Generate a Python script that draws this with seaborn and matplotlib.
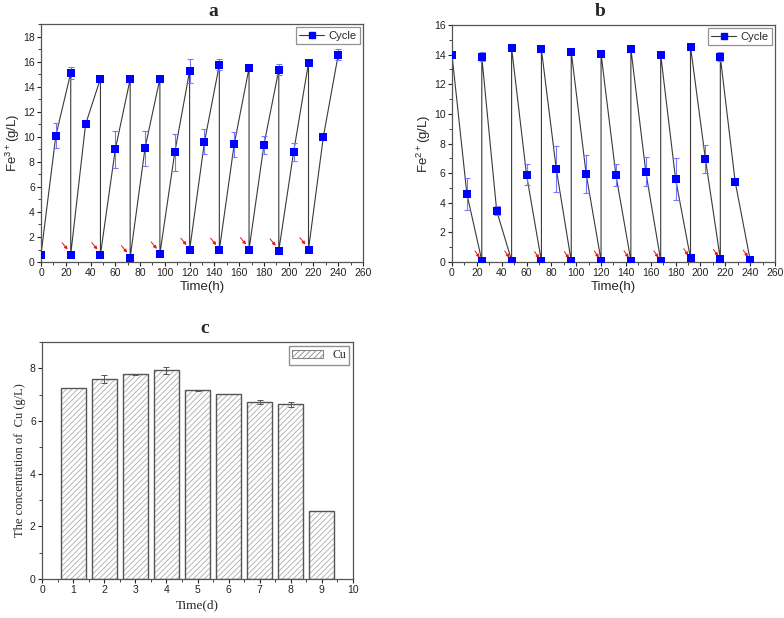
import matplotlib
matplotlib.use('Agg')
import matplotlib.pyplot as plt
from matplotlib.lines import Line2D
from matplotlib.patches import Patch, Rectangle
from matplotlib.ticker import MultipleLocator
import seaborn as sns
import pandas as pd

# Fe3+ (panel a): sampling time, value, error
t_a = [0, 12, 24, 24, 36, 48, 48, 60, 72, 72, 84, 96, 96, 108, 120, 120, 132, 144, 144,
       156, 168, 168, 180, 192, 192, 204, 216, 216, 228, 240]
fe3 = [0.6, 10.1, 15.1, 0.6, 11.0, 14.65, 0.6, 9.0, 14.6, 0.35, 9.1, 14.65, 0.65, 8.75, 15.25,
       0.95, 9.6, 15.75, 0.95, 9.4, 15.5, 1.0, 9.35, 15.35, 0.9, 8.8, 15.9, 1.0, 10.0, 16.55]
fe3_err = [0, 1.0, 0.5, 0, 0, 0.15, 0, 1.5, 0.1, 0, 1.4, 0.1, 0, 1.5, 0.95,
           0, 1.0, 0.45, 0, 1.0, 0.15, 0, 0.75, 0.45, 0, 0.7, 0.1, 0, 0, 0.45]

# Fe2+ (panel b)
t_b = [0, 12, 24, 24, 36, 48, 48, 60, 72, 72, 84, 96, 96, 108, 120, 120, 132, 144, 144,
       156, 168, 168, 180, 192, 192, 204, 216, 216, 228, 240]
fe2 = [14.0, 4.6, 0.1, 13.85, 3.45, 0.1, 14.45, 5.9, 0.05, 14.35, 6.25, 0.05, 14.2, 5.95, 0.1,
       14.05, 5.85, 0.1, 14.4, 6.1, 0.1, 14.0, 5.6, 0.25, 14.55, 6.95, 0.2, 13.85, 5.4, 0.15]
fe2_err = [0, 1.1, 0, 0.3, 0.3, 0, 0, 0.7, 0, 0, 1.55, 0, 0, 1.3, 0,
           0, 0.75, 0, 0, 1.0, 0, 0, 1.4, 0, 0, 0.95, 0, 0.3, 0.1, 0]

# Cu (panel c)
days = [1, 2, 3, 4, 5, 6, 7, 8, 9]
cu = [7.25, 7.58, 7.77, 7.92, 7.17, 7.03, 6.72, 6.64, 2.6]
cu_err = [0, 0.15, 0.03, 0.12, 0.02, 0.01, 0.08, 0.1, 0]

sns.set_style('ticks')
plt.rcParams['font.family'] = ['Liberation Sans', 'DejaVu Sans']
plt.rcParams['mathtext.fontset'] = 'custom'
plt.rcParams['mathtext.rm'] = 'Liberation Sans'
plt.rcParams['mathtext.default'] = 'rm'
plt.rcParams['hatch.linewidth'] = 0.6

fig = plt.figure(figsize=(7.84, 6.18), dpi=100)
ax_a = fig.add_axes([0.0523, 0.576, 0.4107, 0.385])
ax_b = fig.add_axes([0.5765, 0.576, 0.412, 0.3835])
ax_c = fig.add_axes([0.0536, 0.0631, 0.3967, 0.3835])

frame = '#555555'
serif = ['Liberation Serif', 'DejaVu Serif']


def style(ax, xmaj, xmin, ymaj, ymin):
    ax.xaxis.set_major_locator(MultipleLocator(xmaj))
    ax.xaxis.set_minor_locator(MultipleLocator(xmin))
    ax.yaxis.set_major_locator(MultipleLocator(ymaj))
    ax.yaxis.set_minor_locator(MultipleLocator(ymin))
    ax.tick_params(which='major', direction='out', length=3, width=0.8, labelsize=7.5,
                   colors='#222222', pad=1.5)
    ax.tick_params(which='minor', direction='out', length=2, width=0.6, colors='#222222')
    for s in ax.spines.values():
        s.set_visible(True)
        s.set_color(frame)
        s.set_linewidth(0.9)


def cycle_panel(ax, t, v, err, lows, arrow, ylim, ylabel, title, tx):
    df = pd.DataFrame({'t': t, 'v': v})
    sns.lineplot(data=df, x='t', y='v', sort=False, estimator=None, color='#3a3a3a', lw=0.8, ax=ax)
    ax.errorbar(t, v, yerr=err, fmt='none', ecolor='#7878ff', elinewidth=0.8, capsize=2, capthick=0.8)
    sns.scatterplot(data=df, x='t', y='v', marker='s', color='#0000ff', edgecolor='#0000ff', s=30,
                    linewidth=0, ax=ax, zorder=5)
    dx0, dy0, dx1, dy1 = arrow
    for x0, y0 in lows:
        ax.annotate('', xy=(x0 - dx1, y0 + dy1), xytext=(x0 - dx0, y0 + dy0),
                    arrowprops=dict(arrowstyle='-|>', color='#ee1111', lw=0.7, mutation_scale=4.5,
                                    shrinkA=0, shrinkB=0))
    ax.set_xlim(0, 260)
    ax.set_ylim(*ylim)
    style(ax, 20, 10, 2, 1)
    ax.set_xlabel('Time(h)', fontsize=9.5, labelpad=2)
    ax.set_ylabel(ylabel, fontsize=9.5, labelpad=1)
    h = Line2D([], [], color='#3a3a3a', lw=0.8, marker='s', mfc='#0000ff', mec='#0000ff', ms=5)
    leg = ax.legend([h], ['Cycle'], loc='upper right', fontsize=8, fancybox=False,
                    handlelength=2.2, borderpad=0.3, borderaxespad=0.3, handletextpad=0.4)
    leg.get_frame().set_edgecolor('#777777')
    leg.get_frame().set_linewidth(0.9)
    ax.text(tx, 1.036, title, transform=ax.transAxes, ha='center', va='baseline',
            fontsize=14, fontweight='bold', family=serif)


lows_a = [(t_a[i], fe3[i]) for i in range(3, len(t_a), 3)]
lows_b = [(t_b[i], fe2[i]) for i in range(2, len(t_b), 3)]
cycle_panel(ax_a, t_a, fe3, fe3_err, lows_a, (7, 0.95, 2.5, 0.4), (0, 19),
            'Fe$^{3+}$(g/L)', 'a', 0.534)
cycle_panel(ax_b, t_b, fe2, fe2_err, lows_b, (5.5, 0.65, 1.8, 0.2), (0, 16),
            'Fe$^{2+}$(g/L)', 'b', 0.458)

# panel c
cu_df = pd.DataFrame({'day': days, 'cu': cu})
sns.barplot(data=cu_df, x='day', y='cu', native_scale=True, width=0.8, color='white',
            edgecolor='#ababab', linewidth=0, hatch='//////', errorbar=None, ax=ax_c)
for p in list(ax_c.patches):
    ax_c.add_patch(Rectangle(p.get_xy(), p.get_width(), p.get_height(), fill=False,
                             edgecolor='#555555', lw=1.0))
ax_c.errorbar(days, cu, yerr=cu_err, fmt='none', ecolor='#555555', elinewidth=0.7,
              capsize=2.5, capthick=0.7)
ax_c.set_xlim(0, 10)
ax_c.set_ylim(0, 9)
style(ax_c, 1, 0.5, 2, 1)
ax_c.set_xlabel('Time(d)', fontsize=9.5, family=serif, labelpad=3)
ax_c.set_ylabel('The concentration of  Cu (g/L)', fontsize=9, family=serif, labelpad=3)
hp = Patch(facecolor='white', edgecolor='#888888', hatch='//////', lw=0.8)
leg = ax_c.legend([hp], ['Cu'], loc='upper right', prop={'family': serif, 'size': 8.5},
                  fancybox=False, handlelength=2.6, borderpad=0.3, borderaxespad=0.3)
leg.get_frame().set_edgecolor('#777777')
ax_c.text(0.524, 1.04, 'c', transform=ax_c.transAxes, ha='center', va='baseline',
          fontsize=14, fontweight='bold', family=serif)

fig.savefig('out.png', dpi=100)
